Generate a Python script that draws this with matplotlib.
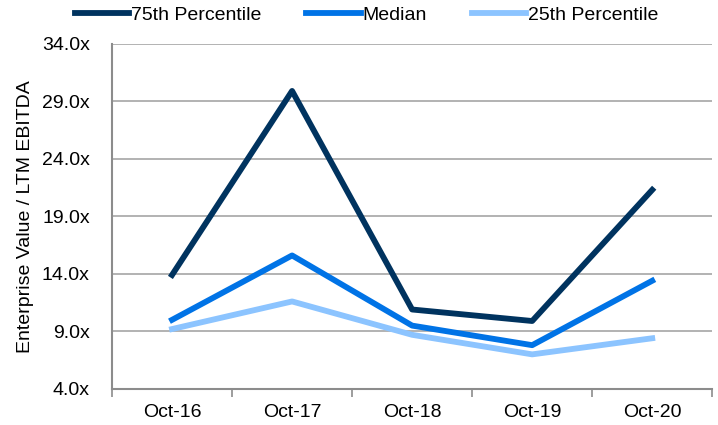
import matplotlib.pyplot as plt
import numpy as np

plt.rcParams['font.family'] = ['Liberation Sans', 'DejaVu Sans']

periods = ['Oct-16', 'Oct-17', 'Oct-18', 'Oct-19', 'Oct-20']
p75 = [13.9, 29.9, 10.9, 9.9, 21.3]
median = [10.0, 15.6, 9.5, 7.8, 13.4]
p25 = [9.2, 11.6, 8.7, 7.0, 8.4]

y_ticks = [4.0, 9.0, 14.0, 19.0, 24.0, 29.0, 34.0]

fig = plt.figure(figsize=(7.18, 4.25), dpi=100)
ax = fig.add_axes([0.156, 0.085, 0.836, 0.812])

x = np.arange(len(periods))
ax.plot(x, p75, color='#00335F', lw=4.2, label='75th Percentile')
ax.plot(x, median, color='#0073E6', lw=4.2, label='Median')
ax.plot(x, p25, color='#8CC4FF', lw=4.2, label='25th Percentile')

ax.set_xlim(-0.5, len(periods) - 0.5)
ax.set_ylim(y_ticks[0], y_ticks[-1])
ax.set_yticks(y_ticks)
ax.set_yticklabels([f'{v:.1f}x' for v in y_ticks], fontsize=14)
ax.set_xticks(x)
ax.set_xticklabels(periods, fontsize=14)
ax.set_xticks(np.arange(-0.5, len(periods)), minor=True)
ax.tick_params(axis='x', which='major', length=0, pad=11)
ax.tick_params(axis='x', which='minor', length=6, color='#8C8C8C', width=1.2)
ax.tick_params(axis='y', length=0, pad=16)

ax.grid(axis='y', color='#A6A6A6', lw=1.2)
ax.set_axisbelow(True)
for s in ['top', 'right']:
    ax.spines[s].set_visible(False)
for s in ['left', 'bottom']:
    ax.spines[s].set_color('#8C8C8C')
    ax.spines[s].set_linewidth(1.5)

ax.set_ylabel('Enterprise Value / LTM EBITDA', fontsize=14, labelpad=6)

ax.legend(loc='upper center', bbox_to_anchor=(0.424, 1.16), ncol=3, frameon=False,
          fontsize=14, handlelength=2.8, handletextpad=0.1, columnspacing=2.3)

fig.savefig('out.png', dpi=100)
